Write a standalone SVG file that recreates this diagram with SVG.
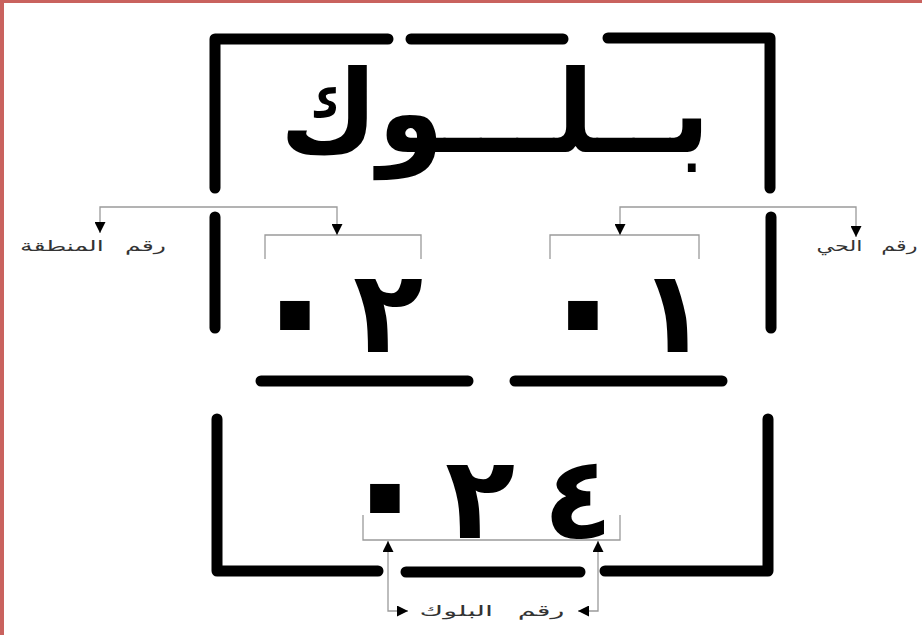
<svg xmlns="http://www.w3.org/2000/svg" width="922" height="635" viewBox="0 0 922 635">
<style>
.bar{fill:none;stroke:#000;stroke-width:11;stroke-linecap:round;stroke-linejoin:round}
.br{fill:none;stroke:#9a9a9a;stroke-width:1.3}
.cn{fill:none;stroke:#9a9a9a;stroke-width:1.3;marker-start:url(#ah);marker-end:url(#ah)}
.big{font-family:"DejaVu Sans",sans-serif;fill:#000;font-weight:bold}
.dot{font-size:170px}
.lbl{font-family:"DejaVu Sans",sans-serif;font-size:15px;fill:#333;word-spacing:8px}
</style>
<defs>
<marker id="ah" markerUnits="userSpaceOnUse" markerWidth="11" markerHeight="11" refX="11" refY="5.5" orient="auto-start-reverse" viewBox="0 0 11 11">
<path d="M0,0 L11,5.5 L0,11 z" fill="#000"/>
</marker>
</defs>
<rect width="922" height="635" fill="#fff"/>
<rect x="0" y="0" width="4" height="635" fill="#c9625e"/>
<rect x="0" y="0" width="922" height="3" fill="#c9625e"/>

<g id="frame">
<path class="bar" d="M215,188 V39 H388"/>
<path class="bar" d="M411,39 H563"/>
<path class="bar" d="M608,38 H770 V188"/>
<path class="bar" d="M215,217 V328"/>
<path class="bar" d="M771,217 V328"/>
<path class="bar" d="M261,381 H468"/>
<path class="bar" d="M515,381 H722"/>
<path class="bar" d="M217,419 V571 H378"/>
<path class="bar" d="M406,572 H580"/>
<path class="bar" d="M605,571 H768 V419"/>
</g>

<g id="title">
<text class="big" x="495" y="152" font-size="115" text-anchor="middle" direction="rtl" textLength="430" lengthAdjust="spacingAndGlyphs">بــلـــوك</text>
</g>

<g id="zone-number">
<path class="br" d="M265,259 V235 H421 V259"/>
<text class="big" font-size="115" y="352" text-anchor="middle"><tspan class="dot" x="295" y="363">٠</tspan><tspan x="388" y="352">٢</tspan></text>
</g>

<g id="district-number">
<path class="br" d="M550,259 V235 H699 V259"/>
<text class="big" font-size="115" y="352" text-anchor="middle"><tspan class="dot" x="583" y="363">٠</tspan><tspan x="673" y="352">١</tspan></text>
</g>

<g id="block-number">
<path class="br" d="M363,515 V540 H620 V515"/>
<text class="big" font-size="115" y="538" text-anchor="middle"><tspan class="dot" x="385" y="546">٠</tspan><tspan x="480" y="538">٢</tspan><tspan x="578" y="538">٤</tspan></text>
</g>

<g id="labels">
<text class="lbl" x="93" y="251" text-anchor="middle" direction="rtl" textLength="146" lengthAdjust="spacingAndGlyphs">رقم المنطقة</text>
<text class="lbl" x="867" y="251" text-anchor="middle" direction="rtl" textLength="101" lengthAdjust="spacingAndGlyphs">رقم الحي</text>
<text class="lbl" x="492" y="616" text-anchor="middle" direction="rtl" textLength="145" lengthAdjust="spacingAndGlyphs">رقم البلوك</text>
</g>

<g id="connectors">
<path class="cn" d="M337,235 V207 H100 V233"/>
<path class="cn" d="M620,235 V207 H856 V237"/>
<path class="cn" d="M388,541 V611 H408"/>
<path class="cn" d="M598,541 V611 H578"/>
</g>
</svg>
